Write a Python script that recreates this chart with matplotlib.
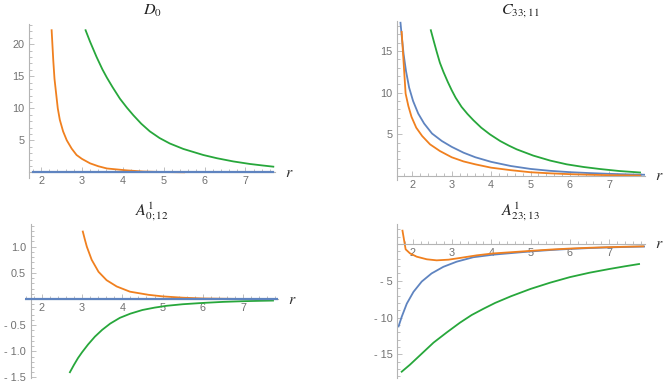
import matplotlib
matplotlib.use("Agg")
import matplotlib.pyplot as plt
from matplotlib.ticker import MultipleLocator

# ---- D_0 ----
d0_blue_r = [1.81, 7.68]
d0_blue = [0.0, 0.0]
d0_orange_r = [2.26, 2.30, 2.33, 2.37, 2.41, 2.46, 2.54, 2.63, 2.75, 2.87, 3.0, 3.2,
               3.4, 3.61, 3.85, 4.1, 4.5, 5.0, 5.5]
d0_orange = [22.2, 17.5, 14.6, 12.3, 10.0, 8.2, 6.4, 5.0, 3.7, 2.7, 2.1, 1.4,
             0.95, 0.6, 0.45, 0.3, 0.12, 0.04, 0.0]
d0_green_r = [3.09, 3.2, 3.36, 3.5, 3.61, 3.75, 3.93, 4.1, 4.26, 4.45, 4.66, 4.9,
              5.15, 5.48, 5.97, 6.3, 6.7, 7.11, 7.4, 7.68]
d0_green = [22.2, 20.4, 18.0, 16.1, 14.8, 13.3, 11.5, 10.1, 8.9, 7.6, 6.4, 5.35,
            4.5, 3.65, 2.7, 2.2, 1.7, 1.3, 1.08, 0.88]

# ---- C_33;11 ----
c_blue_r = [1.70, 1.74, 1.78, 1.84, 1.92, 2.02, 2.15, 2.3, 2.5, 2.75, 3.0, 3.3,
            3.6, 4.0, 4.5, 5.0, 5.5, 6.0, 6.5, 7.0, 7.5, 7.91]
c_blue = [18.4, 16.4, 14.6, 12.6, 10.6, 9.0, 7.5, 6.3, 5.1, 4.2, 3.5, 2.8,
          2.25, 1.7, 1.2, 0.85, 0.62, 0.46, 0.35, 0.26, 0.19, 0.15]
c_orange_r = [1.73, 1.83, 1.90, 1.98, 2.10, 2.25, 2.45, 2.7, 3.0, 3.3, 3.6, 4.0,
              4.5, 5.0, 5.5, 6.0, 6.5, 7.0, 7.5, 7.78]
c_orange = [17.3, 9.9, 8.4, 7.1, 5.8, 4.8, 3.8, 3.0, 2.25, 1.75, 1.4, 1.0,
            0.7, 0.45, 0.32, 0.22, 0.15, 0.1, 0.07, 0.05]
c_green_r = [2.47, 2.55, 2.62, 2.7, 2.79, 2.9, 3.0, 3.1, 3.25, 3.4, 3.55, 3.75,
             3.97, 4.23, 4.45, 4.65, 5.07, 5.5, 5.92, 6.35, 6.76, 7.25, 7.78]
c_green = [17.5, 16.1, 14.9, 13.6, 12.5, 11.3, 10.3, 9.4, 8.3, 7.45, 6.7, 5.8,
           5.0, 4.2, 3.65, 3.2, 2.45, 1.85, 1.4, 1.08, 0.84, 0.6, 0.42]

# ---- A^1_0;12 ----
a0_blue_r = [1.59, 7.86]
a0_blue = [0.0, 0.0]
a0_orange_r = [3.02, 3.07, 3.12, 3.24, 3.41, 3.61, 3.86, 4.19, 4.65, 5.0, 5.5, 6.0,
               7.0, 7.8]
a0_orange = [1.29, 1.14, 1.0, 0.75, 0.52, 0.36, 0.24, 0.14, 0.08, 0.05, 0.025, 0.01,
             0.0, 0.0]
a0_green_r = [2.70, 2.80, 2.90, 3.0, 3.15, 3.32, 3.5, 3.7, 3.94, 4.2, 4.5, 4.8,
              5.1, 5.5, 6.0, 6.5, 7.0, 7.4, 7.74]
a0_green = [-1.40, -1.26, -1.13, -1.02, -0.87, -0.72, -0.59, -0.47, -0.36, -0.28,
            -0.21, -0.165, -0.13, -0.10, -0.075, -0.055, -0.042, -0.035, -0.03]

# ---- A^1_23;13 ----
a23_blue_r = [1.64, 1.72, 1.85, 2.02, 2.23, 2.48, 2.78, 3.12, 3.54, 4.05, 4.69, 5.03,
              5.5, 5.96, 6.5, 7.0, 7.5, 7.92]
a23_blue = [-11.2, -9.9, -8.1, -6.5, -5.1, -4.0, -3.1, -2.4, -1.8, -1.45, -1.15, -1.0,
            -0.82, -0.68, -0.55, -0.46, -0.39, -0.34]
a23_orange_r = [1.74, 1.82, 1.93, 2.10, 2.36, 2.61, 2.91, 3.20, 3.63, 4.05, 4.69, 5.03,
                5.5, 5.96, 6.5, 7.0, 7.5, 7.87]
a23_orange = [1.81, -0.72, -1.27, -1.72, -2.08, -2.22, -2.13, -1.90, -1.54, -1.28, -1.05,
              -0.92, -0.76, -0.63, -0.51, -0.43, -0.36, -0.32]
a23_green_r = [1.72, 1.93, 2.19, 2.53, 2.87, 3.2, 3.5, 3.8, 4.1, 4.5, 5.0, 5.5,
               6.0, 6.5, 7.0, 7.4, 7.76]
a23_green = [-17.35, -16.4, -15.1, -13.4, -12.0, -10.7, -9.65, -8.8, -8.0, -7.1, -6.1,
             -5.25, -4.5, -3.9, -3.4, -3.03, -2.72]

# tick labels
x_ticks = [2, 3, 4, 5, 6, 7]
d0_yticks = [5, 10, 15, 20]
d0_ylabels = ['5', '10', '15', '20']
c_yticks = [5, 10, 15]
c_ylabels = ['5', '10', '15']
a0_yticks = [-1.5, -1.0, -0.5, 0.5, 1.0]
a0_ylabels = ['- 1.5', '- 1.0', '- 0.5', '0.5', '1.0']
a23_yticks = [-15, -10, -5]
a23_ylabels = ['- 15', '- 10', '- 5']

BLUE = '#5f84c0'
ORANGE = '#f0801f'
GREEN = '#27a73b'
AXIS = '#b4b4b4'
LABEL = '#707070'
W, H = 665, 387

plt.rcParams['mathtext.fontset'] = 'stix'
plt.rcParams['font.family'] = 'Liberation Sans'

fig = plt.figure(figsize=(W / 100, H / 100), dpi=100)


def make_panel(xlim, ylim, spine_x, x2px, xs, y0px, ys, yticks, ylabels, yminor):
    # place axes so that data coordinates land on the reference pixels
    left = x2px + (xlim[0] - 2) * xs
    right = x2px + (xlim[1] - 2) * xs
    top = y0px - ylim[1] * ys
    bottom = y0px - ylim[0] * ys
    ax = fig.add_axes([left / W, 1 - bottom / H, (right - left) / W, (bottom - top) / H])
    ax.set_xlim(xlim)
    ax.set_ylim(ylim)
    ax.patch.set_alpha(0)
    for s in ['top', 'right']:
        ax.spines[s].set_visible(False)
    ax.spines['left'].set_position(('data', spine_x))
    ax.spines['bottom'].set_position(('data', 0))
    for s in ['left', 'bottom']:
        ax.spines[s].set_color(AXIS)
        ax.spines[s].set_linewidth(0.8)
    ax.set_xticks(x_ticks)
    ax.set_yticks(yticks, ylabels)
    ax.xaxis.set_minor_locator(MultipleLocator(0.2))
    ax.yaxis.set_minor_locator(MultipleLocator(yminor))
    ax.tick_params(which='both', direction='in', color=AXIS, width=0.6,
                   labelcolor=LABEL, labelsize=7.8)
    ax.tick_params(which='major', length=3.5)
    ax.tick_params(which='minor', length=2)
    ax.tick_params(axis='x', pad=3)
    ax.tick_params(axis='y', pad=3.5)
    ax.annotate('$r$', xy=(xlim[1], 0), xytext=(7, 0), textcoords='offset points',
                va='center', ha='left', fontsize=11.5, color='#333333',
                annotation_clip=False)
    return ax


lw = 1.3

# D_0
ax1 = make_panel((1.71, 7.73), (-0.9, 23.2), 1.71, 41, 40.9, 172.3, 6.4,
                 d0_yticks, d0_ylabels, 1)
ax1.plot(d0_orange_r, d0_orange, color=ORANGE, lw=lw)
ax1.plot(d0_green_r, d0_green, color=GREEN, lw=lw)
ax1.plot(d0_blue_r, d0_blue, color=BLUE, lw=1.6, zorder=3)

# C_33;11
ax2 = make_panel((1.62, 7.91), (-0.5, 18.6), 1.62, 412.3, 39.4, 176, 8.33,
                 c_yticks, c_ylabels, 1)
ax2.plot(c_blue_r, c_blue, color=BLUE, lw=lw)
ax2.plot(c_orange_r, c_orange, color=ORANGE, lw=lw)
ax2.plot(c_green_r, c_green, color=GREEN, lw=lw)

# A^1_0;12
ax3 = make_panel((1.59, 7.86), (-1.52, 1.43), 1.73, 41.7, 40.3, 299, 52.3,
                 a0_yticks, a0_ylabels, 0.1)
ax3.plot(a0_orange_r, a0_orange, color=ORANGE, lw=lw)
ax3.plot(a0_green_r, a0_green, color=GREEN, lw=lw)
ax3.plot(a0_blue_r, a0_blue, color=BLUE, lw=1.6, zorder=3)

# A^1_23;13
ax4 = make_panel((1.61, 7.92), (-18.2, 2.7), 1.61, 412.7, 39.3, 244, 7.36,
                 a23_yticks, a23_ylabels, 1)
ax4.plot(a23_blue_r, a23_blue, color=BLUE, lw=lw)
ax4.plot(a23_orange_r, a23_orange, color=ORANGE, lw=lw)
ax4.plot(a23_green_r, a23_green, color=GREEN, lw=lw)

# titles
title_kw = dict(ha='center', va='center', fontsize=11.5, color='#222222')
fig.text(152 / W, 1 - 11 / H, r'$D_0$', **title_kw)
fig.text(520 / W, 1 - 11 / H, r'$C_{33;11}$', **title_kw)
fig.text(152 / W, 1 - 212 / H, r'$A^{1}_{0;12}$', **title_kw)
fig.text(520 / W, 1 - 212 / H, r'$A^{1}_{23;13}$', **title_kw)

fig.savefig('out.png', dpi=100)
